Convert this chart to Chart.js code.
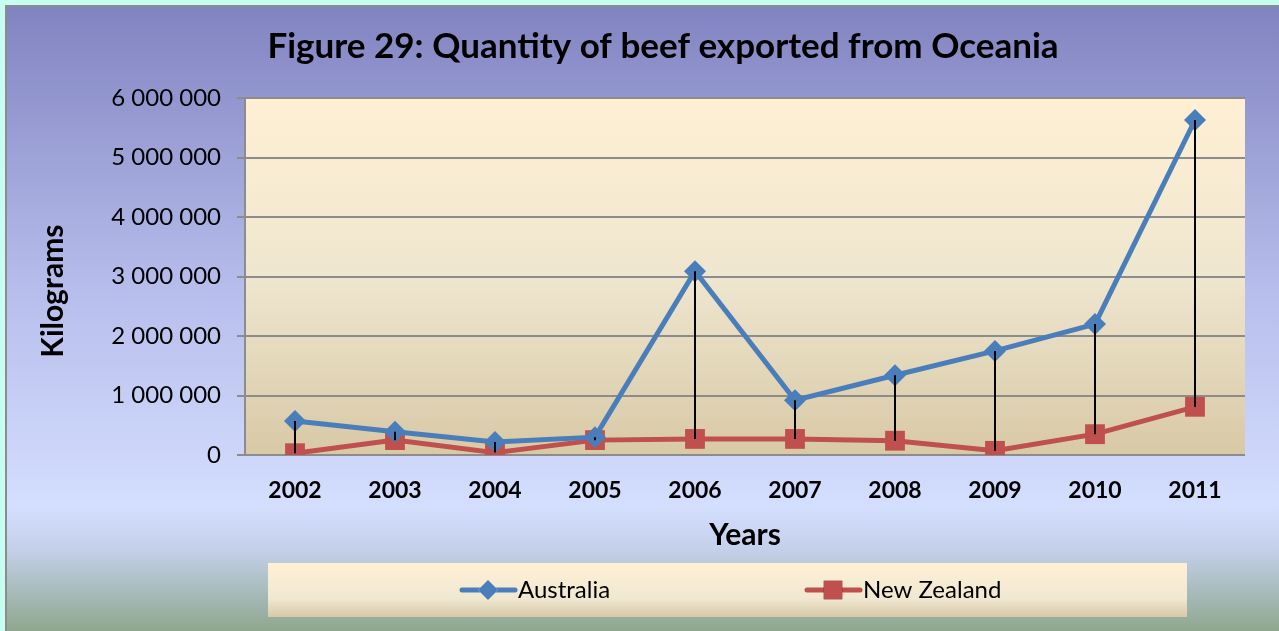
<!DOCTYPE html>
<html>
<head>
<meta charset="utf-8">
<script src="https://cdn.jsdelivr.net/npm/chart.js@4.4.0/dist/chart.umd.min.js"></script>
<style>
  html, body { margin: 0; padding: 0; background: #c6fff2; overflow: hidden; }
  #wrap { width: 1279px; height: 631px; }
</style>
</head>
<body>
<div id="wrap"><canvas id="lineChart" width="1279" height="631"></canvas></div>
<script>
// data
var years = ["2002", "2003", "2004", "2005", "2006", "2007", "2008", "2009", "2010", "2011"];
var australia = [570000, 390000, 220000, 300000, 3090000, 920000, 1340000, 1750000, 2200000, 5630000];
var newZealand = [30000, 250000, 40000, 250000, 270000, 270000, 240000, 70000, 350000, 810000];
var yTicks = [0, 1000000, 2000000, 3000000, 4000000, 5000000, 6000000];

var FONT = "Lato, 'Open Sans', sans-serif";
var PAD_LEFT = 81; // centres the title like the original

function fmt(v) {
  return String(v).replace(/\B(?=(\d{3})+(?!\d))/g, " ");
}

// backgrounds: outer frame + plot area
var bgPlugin = {
  id: 'bg',
  beforeDraw: function(chart) {
    var ctx = chart.ctx, a = chart.chartArea;
    ctx.save();
    var g = ctx.createLinearGradient(0, 5, 0, 631);
    g.addColorStop(0, '#8183c0');
    g.addColorStop(0.45, '#b6bdeb');
    g.addColorStop(0.80, '#d4defe');
    g.addColorStop(0.87, '#c4d0ea');
    g.addColorStop(1, '#8ea78e');
    ctx.fillStyle = g;
    ctx.fillRect(5, 5, chart.width - 5, chart.height - 5);
    ctx.fillStyle = '#8c8c8c';
    ctx.fillRect(5, 5, chart.width - 5, 2);
    ctx.fillRect(5, 5, 2, chart.height - 5);

    var pg = ctx.createLinearGradient(0, a.top, 0, a.bottom);
    pg.addColorStop(0, '#fff0d4');
    pg.addColorStop(0.5, '#efe6cf');
    pg.addColorStop(1, '#d8c9a6');
    ctx.fillStyle = pg;
    ctx.fillRect(a.left, a.top, a.right - a.left, a.bottom - a.top);
    ctx.restore();
  }
};

// black high-low lines between the two series
var dropLines = {
  id: 'dropLines',
  afterDatasetsDraw: function(chart) {
    var m0 = chart.getDatasetMeta(0), m1 = chart.getDatasetMeta(1);
    var ctx = chart.ctx;
    ctx.save();
    ctx.strokeStyle = '#000';
    ctx.lineWidth = 2;
    for (var i = 0; i < m0.data.length; i++) {
      var p0 = m0.data[i], p1 = m1.data[i];
      ctx.beginPath();
      ctx.moveTo(p0.x, p0.y);
      ctx.lineTo(p1.x, p1.y);
      ctx.stroke();
    }
    ctx.restore();
  }
};

// legend box drawn at the bottom
var legendBox = {
  id: 'legendBox',
  afterDraw: function(chart) {
    var ctx = chart.ctx;
    var bx = 268, by = 563, bw = 919, bh = 54;
    ctx.save();
    var g = ctx.createLinearGradient(0, by, 0, by + bh);
    g.addColorStop(0, '#fff0d4');
    g.addColorStop(0.65, '#f0e8d2');
    g.addColorStop(1, '#d8c9a6');
    ctx.fillStyle = g;
    ctx.fillRect(bx, by, bw, bh);

    var items = [{ x: 460, ds: chart.data.datasets[0] }, { x: 805, ds: chart.data.datasets[1] }];
    var cy = 590;
    items.forEach(function(it) {
      var ds = it.ds;
      ctx.strokeStyle = ds.borderColor;
      ctx.lineWidth = 5;
      ctx.lineCap = 'round';
      ctx.beginPath();
      ctx.moveTo(it.x + 2, cy);
      ctx.lineTo(it.x + 55, cy);
      ctx.stroke();
      Chart.helpers.drawPoint(ctx, {
        pointStyle: ds.pointStyle, radius: ds.pointStyle === 'rect' ? 13 : 10, rotation: 0,
        borderWidth: 0
      }, it.x + 28, cy);
      ctx.fillStyle = ds.pointBackgroundColor;
      ctx.fill();
      ctx.fillStyle = '#000';
      ctx.font = "24px " + FONT;
      ctx.textBaseline = 'middle';
      ctx.textAlign = 'left';
      ctx.fillText(ds.label, it.x + 58, cy);
    });
    ctx.restore();
  }
};

var ctxL = document.getElementById("lineChart").getContext('2d');
var myLineChart = new Chart(ctxL, {
  type: 'line',
  data: {
    labels: years,
    datasets: [{
      label: "Australia",
      data: australia,
      borderColor: '#4a7ebb',
      backgroundColor: '#4a7ebb',
      pointBackgroundColor: '#4a7ebb',
      pointBorderColor: '#4a7ebb',
      borderWidth: 5,
      pointStyle: 'rectRot',
      pointRadius: 11,
      pointBorderWidth: 0,
      tension: 0
    },
    {
      label: "New Zealand",
      data: newZealand,
      borderColor: '#c0504d',
      backgroundColor: '#c0504d',
      pointBackgroundColor: '#c0504d',
      pointBorderColor: '#c0504d',
      borderWidth: 5,
      pointStyle: 'rect',
      pointRadius: 14,
      pointBorderWidth: 0,
      tension: 0
    }]
  },
  options: {
    responsive: false,
    animation: false,
    events: [],
    layout: { padding: { top: 8, right: 34, bottom: 76, left: PAD_LEFT } },
    plugins: {
      legend: { display: false },
      tooltip: { enabled: false },
      title: {
        display: true,
        text: 'Figure 29: Quantity of beef exported from Oceania',
        color: '#000',
        font: { family: FONT, size: 35, weight: 'bold' },
        padding: { top: 18, bottom: 30 }
      }
    },
    scales: {
      x: {
        offset: true,
        grid: { display: false, drawTicks: false, tickLength: 0 },
        border: { display: false },
        ticks: {
          color: '#000',
          padding: 22,
          font: { family: FONT, size: 23, weight: 'bold' }
        },
        title: {
          display: true,
          text: 'Years',
          color: '#000',
          font: { family: FONT, size: 30, weight: 'bold' },
          padding: { top: 0, bottom: 2 }
        },
        afterFit: function(s) { s.height = 100; }
      },
      y: {
        min: 0,
        max: 6000000,
        afterBuildTicks: function(s) { s.ticks = yTicks.map(function(v) { return { value: v }; }); },
        grid: { color: '#8c8c8c', lineWidth: 2, tickLength: 8, drawTicks: true },
        border: { display: true, color: '#8c8c8c', width: 2 },
        ticks: {
          color: '#000',
          padding: 16,
          font: { family: FONT, size: 24 },
          callback: function(v) { return fmt(v); }
        },
        title: {
          display: true,
          text: 'Kilograms    ',
          color: '#000',
          font: { family: FONT, size: 30, weight: 'bold' },
          padding: { top: 35 - PAD_LEFT, bottom: 0 }
        },
        afterFit: function(s) { s.width = 245 - PAD_LEFT; }
      }
    }
  },
  plugins: [bgPlugin, dropLines, legendBox]
});
</script>
</body>
</html>
